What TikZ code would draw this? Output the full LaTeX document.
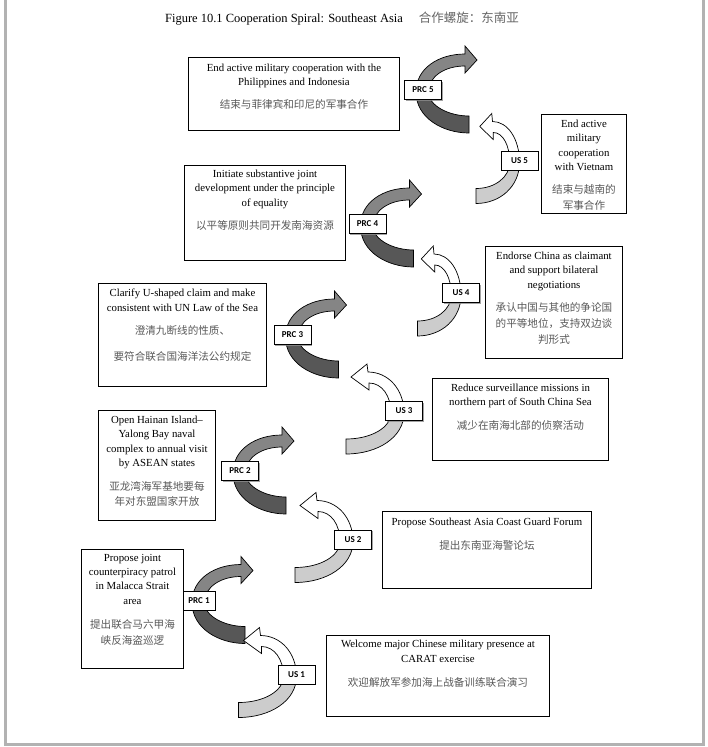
\documentclass[tikz,border=0pt]{standalone}
\usepackage{fontspec}
\setmainfont{Liberation Serif}
\newfontfamily\cjk{Noto Sans CJK SC}
\newfontfamily\labfont{Carlito}
\usetikzlibrary{calc,shadows}
\tikzset{
  bx/.style={draw=black, line width=0.9pt, fill=white, anchor=north west, inner sep=0pt},
  en/.style={anchor=north, align=center, inner sep=0pt, font=\fontsize{10.8}{14.3}\selectfont},
  zh/.style={anchor=north, align=center, inner sep=0pt, text=black!65, font=\cjk\fontsize{10.6}{16}\selectfont},
  lab/.style={draw=black, line width=0.8pt, fill=white, minimum width=37pt, minimum height=19pt, inner sep=0pt,
    drop shadow={shadow xshift=1.2pt, shadow yshift=-1.2pt, fill=black!45, opacity=0.8},
    font=\labfont\bfseries\fontsize{9}{10}\selectfont},
  prcup/.style={draw=black, line width=0.7pt, fill=black!48},
  prclow/.style={draw=black, line width=0.7pt, fill=black!66},
  usup/.style={draw=black, line width=0.7pt, fill=white},
  uslow/.style={draw=black, line width=0.7pt, fill=black!20},
  frame/.style={draw=black!30, line width=3pt}
}
\newcommand\prcshape{%
  \path[prclow] (-7,2) .. controls (-7,28) and (20,43) .. (46,43) -- (46,26) .. controls (26,26) and (6,16) .. (5,2) -- cycle;
  \path[prcup] (-7,2) .. controls (-7,-22) and (16,-36) .. (42,-36) -- (42,-44) -- (54,-30) -- (42,-17) -- (42,-24) .. controls (22,-24) and (6,-14) .. (5,2) -- cycle;}
\newcommand\usshape{%
  \path[uslow] (0,2) .. controls (0,26) and (26,43) .. (58,43) -- (58,28) .. controls (32,28) and (13,16) .. (13,2) -- cycle;
  \path[usup] (0,2) .. controls (0,-22) and (16,-39) .. (36,-39) -- (37,-47) -- (53,-34) -- (35,-21) -- (35,-28) .. controls (22,-28) and (13,-15) .. (13,2) -- cycle;}
\begin{document}
\begin{tikzpicture}[x=1pt, y=-1pt]
\useasboundingbox (0,0) rectangle (708,747);
\fill[white] (0,0) rectangle (708,747);
% page frame
\draw[frame] (5,0) -- (5,744) -- (703,744) -- (703,0);

% title
\node (title) at (342,19) {\fontsize{12.5}{14}\selectfont Figure 10.1 Cooperation Spiral: Southeast Asia\hspace{16pt}{\cjk\color{black!60}合作螺旋：东南亚}};

% boxes
\node[bx, minimum width=211pt, minimum height=73pt] (bp5) at (188,57) {};
\node[en] (ep5) at ($(bp5.north)+(0,6.5)$) {End active military cooperation with the\\Philippines and Indonesia};
\node[zh] (zp5) at ($(bp5.north)+(0,42.5)$) {结束与菲律宾和印尼的军事合作};

\node[bx, minimum width=85pt, minimum height=99pt] (bu5) at (541,114) {};
\node[en] (eu5) at ($(bu5.north)+(0,6)$) {End active\\military\\cooperation\\with Vietnam};
\node[zh] (zu5) at ($(bu5.north)+(0,70.5)$) {结束与越南的\\军事合作};

\node[bx, minimum width=161pt, minimum height=95pt] (bp4) at (184,165) {};
\node[en] (ep4) at ($(bp4.north)+(0,5)$) {Initiate substantive joint\\development under the principle\\of equality};
\node[zh] (zp4) at ($(bp4.north)+(0,55.5)$) {以平等原则共同开发南海资源};

\node[bx, minimum width=137pt, minimum height=112pt] (bu4) at (485,246) {};
\node[en] (eu4) at ($(bu4.north)+(0,6)$) {Endorse China as claimant\\and support bilateral\\negotiations};
\node[zh] (zu4) at ($(bu4.north)+(0,56.5)$) {承认中国与其他的争论国\\的平等地位，支持双边谈\\判形式};

\node[bx, minimum width=168pt, minimum height=103pt] (bp3) at (98,283) {};
\node[en] (ep3) at ($(bp3.north)+(0,6)$) {Clarify U-shaped claim and make\\consistent with UN Law of the Sea};
\node[zh, font=\cjk\fontsize{10.6}{25.5}\selectfont] (zp3) at ($(bp3.north)+(0,42.5)$) {澄清九断线的性质、\\要符合联合国海洋法公约规定};

\node[bx, minimum width=176pt, minimum height=82pt] (bu3) at (432,378) {};
\node[en] (eu3) at ($(bu3.north)+(0,5.5)$) {Reduce surveillance missions in\\northern part of South China Sea};
\node[zh] (zu3) at ($(bu3.north)+(0,42.5)$) {减少在南海北部的侦察活动};

\node[bx, minimum width=117pt, minimum height=110pt] (bp2) at (98,410) {};
\node[en] (ep2) at ($(bp2.north)+(0,6)$) {Open Hainan Island–\\Yalong Bay naval\\complex to annual visit\\by ASEAN states};
\node[zh, font=\cjk\fontsize{10.6}{15}\selectfont] (zp2) at ($(bp2.north)+(0,71.5)$) {亚龙湾海军基地要每\\年对东盟国家开放};

\node[bx, minimum width=209pt, minimum height=77pt] (bu2) at (382,511) {};
\node[en] (eu2) at ($(bu2.north)+(0,6.5)$) {Propose Southeast Asia Coast Guard Forum};
\node[zh] (zu2) at ($(bu2.north)+(0,29)$) {提出东南亚海警论坛};

\node[bx, minimum width=102pt, minimum height=119pt] (bp1) at (81,549) {};
\node[en] (ep1) at ($(bp1.north)+(0,5)$) {Propose joint\\counterpiracy patrol\\in Malacca Strait\\area};
\node[zh] (zp1) at ($(bp1.north)+(0,70.5)$) {提出联合马六甲海\\峡反海盗巡逻};

\node[bx, minimum width=223pt, minimum height=81pt] (bu1) at (326,635) {};
\node[en] (eu1) at ($(bu1.north)+(0,5)$) {Welcome major Chinese military presence at\\CARAT exercise};
\node[zh] (zu1) at ($(bu1.north)+(0,42.5)$) {欢迎解放军参加海上战备训练联合演习};

% label positions
\coordinate (cp5) at (423,90);
\coordinate (cu5) at (519.5,160.5);
\coordinate (cp4) at (367.5,224);
\coordinate (cu4) at (461,293);
\coordinate (cp3) at (292.5,335);
\coordinate (cu3) at (404,411);
\coordinate (cp2) at (240,471);
\coordinate (cu2) at (353,539.5);
\coordinate (cp1) at (199,600.5);
\coordinate (cu1) at (296.5,674.5);

% arrows
\begin{scope}[shift={(cp5)}]\prcshape\end{scope}
\begin{scope}[shift={(cp4)}]\prcshape\end{scope}
\begin{scope}[shift={(cp3)}]\prcshape\end{scope}
\begin{scope}[shift={(cp2)}]\prcshape\end{scope}
\begin{scope}[shift={(cp1)}]\prcshape\end{scope}
\begin{scope}[shift={(cu5)}, xscale=-0.75]\usshape\end{scope}
\begin{scope}[shift={(cu4)}, xscale=-0.75]\usshape\end{scope}
\begin{scope}[shift={(cu3)}, xscale=-1]\usshape\end{scope}
\begin{scope}[shift={(cu2)}, xscale=-1]\usshape\end{scope}
\begin{scope}[shift={(cu1)}, xscale=-1]\usshape\end{scope}

% labels
\node[lab] (lp5) at (cp5) {PRC 5};
\node[lab] (lu5) at (cu5) {US 5};
\node[lab] (lp4) at (cp4) {PRC 4};
\node[lab] (lu4) at (cu4) {US 4};
\node[lab] (lp3) at (cp3) {PRC 3};
\node[lab] (lu3) at (cu3) {US 3};
\node[lab] (lp2) at (cp2) {PRC 2};
\node[lab] (lu2) at (cu2) {US 2};
\node[lab, minimum width=32pt] (lp1) at (cp1) {PRC 1};
\node[lab] (lu1) at (cu1) {US 1};
\end{tikzpicture}
\end{document}
